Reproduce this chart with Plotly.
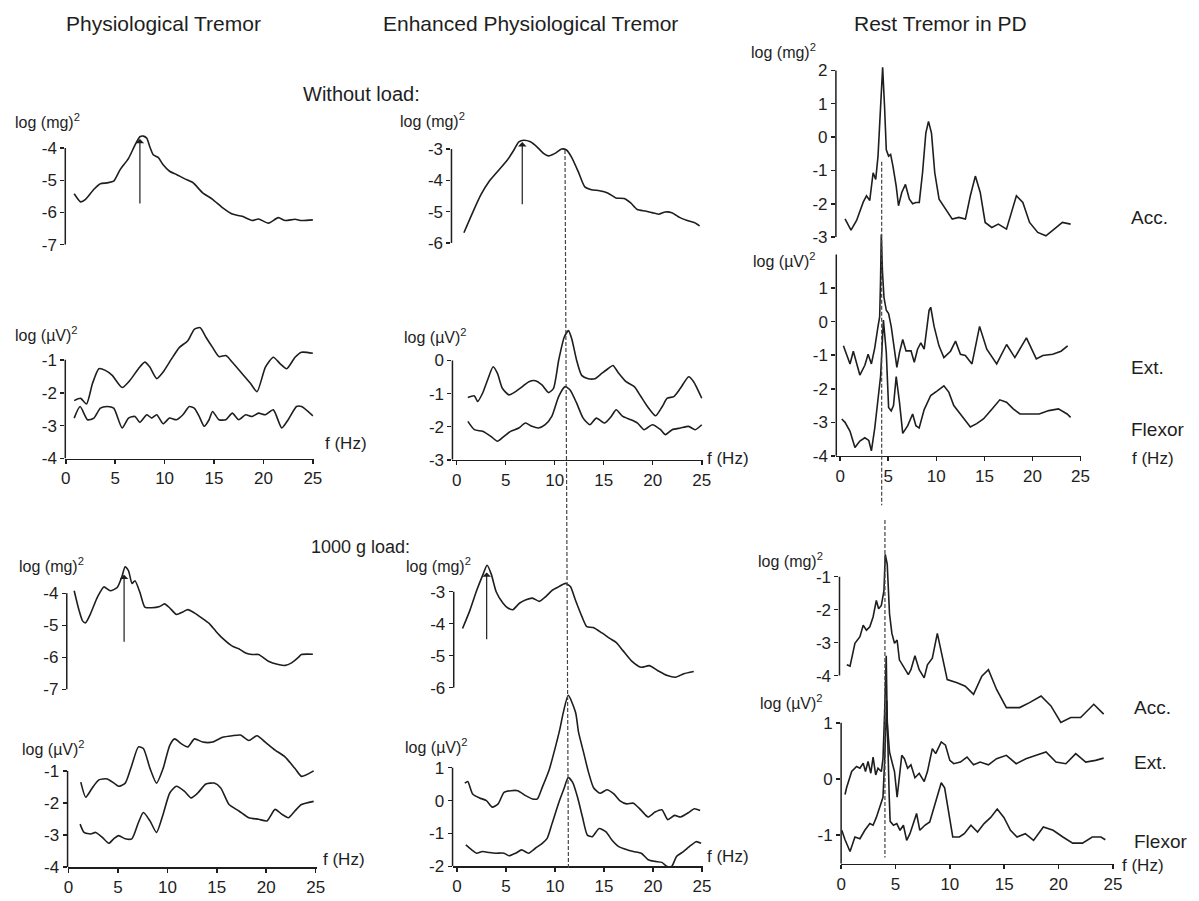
import plotly.graph_objects as go

W, H = 1199, 901
FONT = "Liberation Sans, Arial, sans-serif"
INK = "#1e1e1e"

# ---------------- data (frequency in Hz, power in log units) ----------------
# Physiological tremor, without load
PT_ACC_NL_HZ = [0.85,1.5,2.0,2.85,3.5,4.2,4.85,5.5,6.35,7.0,7.5,7.85,8.2,8.5,8.85,9.35,9.85,10.5,11.2,12.0,12.85,13.85,14.85,15.85,16.85,17.85,18.85,19.5,20.5,21.5,22.2,23.2,23.85,25.0]
PT_ACC_NL = [-5.42,-5.67,-5.59,-5.28,-5.11,-5.08,-5.03,-4.67,-4.32,-3.91,-3.65,-3.63,-3.70,-3.96,-4.21,-4.29,-4.52,-4.72,-4.82,-4.95,-5.07,-5.39,-5.59,-5.85,-6.05,-6.12,-6.25,-6.20,-6.33,-6.16,-6.25,-6.21,-6.25,-6.23]
PT_EMG1_NL_HZ = [0.85,1.5,2.1,2.7,3.35,4.0,4.7,5.7,6.5,7.35,8.0,8.5,9.2,9.85,10.7,11.5,12.35,13.0,13.6,14.2,14.85,15.5,16.2,16.85,17.85,18.7,19.35,20.2,21.0,21.7,22.35,23.2,23.85,25.0]
PT_EMG1_NL = [-2.24,-2.17,-2.34,-1.72,-1.27,-1.32,-1.47,-1.84,-1.62,-1.27,-1.07,-1.22,-1.57,-1.37,-0.97,-0.62,-0.42,-0.07,-0.02,-0.32,-0.62,-0.90,-0.87,-1.07,-1.42,-1.72,-1.97,-1.22,-0.92,-1.12,-1.27,-0.92,-0.77,-0.80]
PT_EMG2_NL_HZ = [0.85,1.45,2.2,2.85,3.5,4.2,4.85,5.7,6.35,7.0,7.5,8.2,8.7,9.2,9.85,10.5,11.2,11.85,12.5,13.0,13.5,14.0,14.5,14.85,15.5,16.2,16.85,17.5,18.2,18.85,19.5,20.2,21.0,21.85,22.5,23.35,23.85,25.0]
PT_EMG2_NL = [-2.77,-2.42,-2.82,-2.77,-2.47,-2.42,-2.47,-3.07,-2.77,-2.72,-2.90,-2.67,-2.77,-2.67,-2.94,-2.77,-2.82,-2.67,-2.42,-2.47,-2.72,-3.02,-2.82,-2.57,-2.82,-2.82,-2.62,-2.82,-2.67,-2.72,-2.62,-2.67,-2.52,-3.07,-2.82,-2.42,-2.42,-2.70]
# Physiological tremor, 1000 g load
PT_ACC_L_HZ = [0.85,1.35,1.7,2.0,2.5,3.2,3.85,4.5,5.2,5.7,6.0,6.35,6.7,7.0,7.5,8.0,8.7,9.5,10.0,10.5,11.2,11.85,12.35,13.0,13.85,14.5,15.2,15.85,16.85,17.5,18.2,18.85,19.5,20.5,21.5,22.2,22.85,23.5,23.85,25.0]
PT_ACC_L = [-3.92,-4.54,-4.86,-4.92,-4.64,-4.12,-3.80,-3.92,-3.82,-3.46,-3.17,-3.30,-3.69,-3.61,-3.97,-4.43,-4.45,-4.41,-4.33,-4.45,-4.66,-4.58,-4.51,-4.61,-4.79,-4.94,-5.19,-5.40,-5.65,-5.73,-5.86,-5.91,-5.91,-6.12,-6.22,-6.25,-6.17,-6.01,-5.91,-5.90]
PT_EMG1_L_HZ = [1.24,1.74,2.4,3.07,3.9,4.6,5.07,5.74,6.4,7.07,7.57,8.24,8.9,9.57,10.24,10.74,11.4,12.07,12.74,13.57,14.57,15.57,16.57,17.4,18.24,19.07,19.9,20.9,21.9,22.9,23.57,24.8]
PT_EMG1_L = [-1.35,-1.82,-1.53,-1.28,-1.25,-1.38,-1.48,-1.38,-0.82,-0.25,-0.30,-0.92,-1.38,-0.92,-0.20,0.00,-0.15,-0.25,0.00,-0.10,-0.10,0.05,0.10,0.12,-0.05,0.10,-0.10,-0.35,-0.56,-0.92,-1.17,-1.00]
PT_EMG2_L_HZ = [1.17,1.57,2.24,2.74,3.4,4.07,4.57,5.07,5.74,6.4,7.07,7.57,8.24,8.9,9.57,10.24,10.9,11.74,12.4,13.07,13.9,14.74,15.4,16.24,17.24,18.24,19.24,20.07,20.9,21.57,22.24,22.9,23.57,24.8]
PT_EMG2_L = [-2.66,-2.92,-2.97,-2.92,-3.07,-3.26,-3.12,-3.02,-3.12,-3.12,-2.61,-2.30,-2.56,-2.92,-2.35,-1.69,-1.48,-1.64,-1.84,-1.69,-1.41,-1.38,-1.53,-2.05,-2.25,-2.46,-2.51,-2.56,-2.20,-2.35,-2.46,-2.25,-2.05,-1.95]

# Enhanced physiological tremor, without load
EPT_ACC_NL_HZ = [0.74,1.64,2.49,3.32,4.33,5.17,5.84,6.34,6.85,7.52,8.19,8.86,9.36,10.03,10.7,11.2,11.7,12.4,13.07,13.74,14.57,15.4,16.24,17.08,17.75,18.42,19.26,19.93,20.6,21.27,21.94,22.78,23.6,24.28,24.78]
EPT_ACC_NL = [-5.67,-5.02,-4.45,-4.03,-3.66,-3.35,-3.03,-2.77,-2.72,-2.77,-2.93,-3.14,-3.22,-3.14,-3.00,-3.03,-3.25,-3.72,-4.21,-4.30,-4.33,-4.40,-4.56,-4.58,-4.72,-4.93,-4.98,-5.03,-5.08,-5.01,-5.03,-5.19,-5.29,-5.35,-5.45]
EPT_EMG1_NL_HZ = [1.14,1.81,2.14,2.64,3.15,3.72,4.16,4.66,5.33,6.0,6.7,7.37,8.04,8.7,9.38,9.88,10.4,10.97,11.4,11.74,12.24,12.75,13.42,14.09,14.76,15.43,15.94,16.44,17.28,18.12,18.79,19.46,20.3,20.97,21.48,22.15,22.82,23.66,24.17,25.0]
EPT_EMG1_NL = [-1.12,-1.07,-1.24,-0.99,-0.59,-0.19,-0.39,-0.84,-1.04,-0.94,-0.79,-0.64,-0.61,-0.74,-0.97,-0.84,0.00,0.70,0.90,0.65,0.00,-0.45,-0.55,-0.55,-0.40,-0.25,-0.15,-0.35,-0.64,-0.79,-1.09,-1.39,-1.67,-1.39,-1.14,-1.09,-0.84,-0.49,-0.64,-1.14]
EPT_EMG2_NL_HZ = [1.14,1.81,2.64,3.48,4.16,4.83,5.5,6.34,7.01,7.68,8.35,9.03,9.7,10.4,11.07,11.57,12.24,12.9,13.58,14.25,15.1,15.77,16.27,16.94,17.78,18.45,19.12,19.96,20.8,21.3,21.98,22.82,23.66,24.33,25.0]
EPT_EMG2_NL = [-1.84,-2.09,-2.14,-2.29,-2.44,-2.29,-2.14,-2.04,-1.89,-1.99,-2.04,-1.94,-1.69,-1.09,-0.79,-0.89,-1.29,-1.74,-1.94,-1.74,-1.89,-1.69,-1.49,-1.69,-1.79,-1.89,-2.09,-1.94,-2.09,-2.24,-2.09,-2.04,-1.99,-2.09,-1.94]
# Enhanced physiological tremor, 1000 g load
EPT_ACC_L_HZ = [0.57,1.31,2.0,2.67,3.07,3.5,4.0,4.7,5.2,5.7,6.37,7.04,7.7,8.4,9.06,9.73,10.4,11.07,11.57,12.07,12.74,13.24,13.9,14.75,15.59,16.26,16.93,17.77,18.78,19.62,20.46,21.47,22.3,23.14,24.15]
EPT_ACC_L = [-4.15,-3.59,-2.97,-2.45,-2.17,-2.45,-3.00,-3.36,-3.51,-3.56,-3.36,-3.25,-3.20,-3.30,-3.15,-2.95,-2.84,-2.74,-2.84,-3.25,-3.77,-4.09,-4.12,-4.28,-4.46,-4.59,-4.84,-5.15,-5.36,-5.31,-5.46,-5.62,-5.67,-5.56,-5.49]
EPT_EMG1_L_HZ = [0.8,1.1,1.6,2.3,3.0,3.6,4.2,4.8,5.5,6.2,7.0,7.7,8.2,8.7,9.4,10.0,10.5,10.85,11.35,12.1,12.4,12.9,13.4,13.95,14.6,15.3,16.0,16.6,17.3,18.0,18.8,19.5,20.2,20.9,21.5,22.2,22.8,23.7,24.2,24.8]
EPT_EMG1_L = [0.53,0.58,0.20,0.08,0.00,-0.20,-0.10,0.25,0.30,0.30,0.15,0.05,0.05,0.40,0.93,1.58,2.18,2.68,3.20,2.68,2.08,1.48,0.88,0.38,0.22,0.33,0.20,0.00,-0.10,-0.08,-0.30,-0.50,-0.35,-0.28,-0.58,-0.45,-0.50,-0.35,-0.25,-0.30]
EPT_EMG2_L_HZ = [0.9,1.5,2.0,2.6,3.3,3.95,4.8,5.3,6.0,6.6,7.3,8.0,8.7,9.2,9.7,10.4,10.9,11.35,11.8,12.3,12.8,13.3,13.8,14.5,15.2,15.8,16.5,17.4,18.0,18.8,19.5,20.2,20.9,21.4,21.9,22.4,23.1,23.7,24.4,24.9]
EPT_EMG2_L = [-1.35,-1.50,-1.60,-1.55,-1.58,-1.60,-1.60,-1.68,-1.60,-1.50,-1.60,-1.45,-1.30,-1.15,-0.70,-0.05,0.35,0.70,0.55,0.10,-0.50,-1.05,-1.10,-0.85,-0.95,-1.20,-1.40,-1.50,-1.55,-1.60,-1.80,-1.85,-1.88,-2.00,-2.00,-1.70,-1.55,-1.40,-1.25,-1.30]

# Rest tremor in PD, without load
PD_ACC_NL_HZ = [0.51,1.13,1.71,2.4,2.74,3.08,3.43,3.7,3.94,4.21,4.42,4.62,4.8,5.04,5.25,5.49,5.83,6.07,6.41,6.79,7.2,7.54,7.88,8.23,8.57,8.91,9.19,9.5,9.84,10.29,10.97,11.66,12.34,13.03,13.54,14.06,14.57,15.08,15.77,16.45,17.3,17.82,18.33,19.0,19.7,20.55,21.4,22.26,23.11,23.97]
PD_ACC_NL = [-2.45,-2.79,-2.50,-1.95,-1.76,-1.90,-1.07,-1.27,-0.57,0.91,2.09,0.91,-0.38,-0.57,-0.52,-0.87,-1.47,-2.06,-1.66,-1.42,-1.86,-2.00,-1.96,-1.96,-1.07,0.12,0.47,0.12,-1.07,-1.86,-2.16,-2.46,-2.41,-2.46,-1.76,-1.17,-1.66,-2.56,-2.71,-2.61,-2.76,-2.26,-1.76,-1.96,-2.56,-2.86,-2.96,-2.76,-2.56,-2.61]
PD_EXT_NL_HZ = [0.34,0.68,1.03,1.37,1.71,2.05,2.57,2.91,3.25,3.6,3.94,4.11,4.2,4.28,4.4,4.56,4.8,5.04,5.31,5.65,5.9,6.17,6.51,6.85,7.37,7.71,8.05,8.39,8.74,9.25,9.42,9.77,10.28,10.79,11.48,12.0,12.51,13.02,13.71,14.5,15.25,16.28,17.31,18.17,19.37,20.4,21.08,22.11,22.97,23.66]
PD_EXT_NL = [-0.72,-0.97,-1.26,-0.88,-1.21,-1.59,-1.30,-0.97,-1.26,-0.78,-0.14,0.14,1.20,2.60,1.50,0.72,0.34,0.24,-0.14,-0.92,-1.36,-0.92,-0.53,-0.87,-0.87,-1.21,-0.82,-0.63,-0.82,0.34,0.43,-0.14,-0.72,-1.07,-0.88,-0.58,-0.97,-1.01,-1.26,-0.14,-0.82,-1.26,-0.68,-1.07,-0.48,-1.11,-1.01,-0.97,-0.88,-0.72]
PD_FLX_NL_HZ = [0.17,0.51,1.03,1.54,2.05,2.57,2.98,3.25,3.6,3.94,4.21,4.5,4.8,5.04,5.31,5.55,5.83,6.17,6.51,7.03,7.54,7.88,8.22,8.74,9.42,10.1,10.79,11.3,11.82,12.5,13.54,14.2,14.9,15.8,16.6,17.3,18.0,18.7,19.7,20.7,21.7,22.7,23.6,23.97]
PD_FLX_NL = [-2.90,-3.00,-3.27,-3.75,-3.56,-3.46,-3.54,-3.85,-3.17,-2.20,-1.62,0.05,-0.92,-2.56,-2.66,-2.50,-1.64,-2.40,-3.33,-3.10,-2.75,-3.10,-3.17,-2.62,-2.20,-2.06,-1.91,-2.10,-2.50,-2.75,-3.14,-3.04,-2.90,-2.60,-2.33,-2.40,-2.60,-2.75,-2.75,-2.75,-2.65,-2.60,-2.75,-2.85]
# Rest tremor in PD, 1000 g load
PD_ACC_L_HZ = [0.52,0.82,1.27,1.73,2.03,2.33,2.64,2.94,3.24,3.45,3.7,3.94,4.06,4.24,4.45,4.67,4.91,5.15,5.36,5.82,6.18,6.42,6.79,7.18,7.64,7.94,8.39,8.85,9.3,9.76,10.67,11.42,12.18,12.94,13.55,14.3,15.2,16.42,17.33,18.39,19.3,20.21,21.12,22.03,23.24,24.15]
PD_ACC_L = [-3.67,-3.71,-3.02,-2.82,-2.47,-2.62,-2.52,-2.22,-1.72,-1.97,-1.87,-1.42,-0.32,-0.62,-2.12,-2.72,-3.02,-2.92,-3.52,-3.77,-3.97,-3.82,-3.40,-3.82,-4.07,-3.67,-3.47,-2.72,-3.42,-4.12,-4.22,-4.32,-4.57,-4.02,-3.82,-4.42,-4.97,-4.97,-4.82,-4.62,-4.92,-5.42,-5.27,-5.27,-4.87,-5.17]
PD_EXT_L_HZ = [0.36,0.5,0.97,1.42,1.73,2.03,2.24,2.48,2.73,2.94,3.18,3.39,3.7,3.85,4.0,4.15,4.24,4.45,4.67,4.91,5.15,5.36,5.58,5.82,6.12,6.42,6.79,7.18,7.64,7.94,8.39,8.7,9.21,9.6,10.0,10.36,10.97,11.58,12.18,12.79,13.55,14.3,15.2,16.1,17.0,17.94,18.85,19.76,20.67,21.58,22.5,23.4,24.15]
PD_EXT_L = [-0.28,-0.16,0.13,0.22,0.19,0.28,0.13,0.31,0.10,0.39,0.07,0.19,0.13,0.36,1.18,2.20,1.00,0.48,0.31,0.13,-0.33,0.07,0.42,0.36,0.19,0.25,0.02,0.10,-0.05,0.13,0.54,0.45,0.66,0.60,0.33,0.27,0.30,0.39,0.25,0.30,0.25,0.36,0.42,0.27,0.36,0.42,0.48,0.30,0.27,0.45,0.30,0.33,0.37]
PD_FLX_L_HZ = [0.06,0.36,0.82,1.27,1.73,2.18,2.64,2.94,3.24,3.55,3.85,4.0,4.2,4.42,4.51,4.82,5.12,5.42,5.73,6.03,6.33,6.64,6.94,7.24,7.7,8.15,8.76,9.21,9.52,9.88,10.27,10.88,11.33,11.94,12.55,13.15,13.76,14.36,14.97,15.58,16.18,16.94,17.7,18.6,19.5,20.4,21.3,22.2,23.1,23.9,24.3]
PD_FLX_L = [-0.92,-1.09,-1.30,-1.04,-1.07,-0.92,-0.80,-0.83,-0.69,-0.51,-0.33,0.31,1.40,-0.30,-0.76,-0.83,-0.80,-0.92,-0.83,-1.10,-0.98,-0.80,-0.62,-0.92,-0.83,-0.77,-0.39,-0.07,-0.16,-0.57,-1.04,-1.04,-0.98,-0.83,-0.95,-0.80,-0.69,-0.54,-0.69,-0.92,-1.04,-0.98,-1.10,-0.86,-0.92,-1.04,-1.15,-1.15,-1.04,-1.04,-1.09]

# marked peak frequencies (Hz) and arrow extents
ARROWS = {1: (7.5, -5.77, -3.72), 3: (5.9, -5.56, -3.42), 5: (6.69, -4.81, -2.78), 7: (3.03, -4.53, -2.40)}
EPT_PEAK_HZ = (11.05, 11.4)
PD_PEAK_NL_HZ = 4.32
PD_PEAK_L_HZ = 4.03

X_TICKS = [0, 5, 10, 15, 20, 25]

# ---------------- panel geometry (pixel calibration) ----------------
PANELS = [
    dict(series=[(PT_ACC_NL_HZ, PT_ACC_NL)], x0=61.5, k=10, xr=(-0.05, 25.2), cal=(-4, 148, -7, 246), yr=(-7, -3.5), yt=[-7, -6, -5, -4], yl=(-7, -4), showx=False, shape='spline'),
    dict(series=[(PT_EMG1_NL_HZ, PT_EMG1_NL), (PT_EMG2_NL_HZ, PT_EMG2_NL)], x0=61.5, k=10, xr=(-0.05, 25.1), cal=(-1, 362.7, -4, 462.7), yr=(-4, 0.1), yt=[-4, -3, -2, -1], yl=(-4, -1), showx=True, shape='spline'),
    dict(series=[(PT_ACC_L_HZ, PT_ACC_L)], x0=61.5, k=10, xr=(0.1, 25.2), cal=(-4, 599.3, -7, 696.7), yr=(-7, -3.0), yt=[-7, -6, -5, -4], yl=(-7, -4), showx=False, shape='spline'),
    dict(series=[(PT_EMG1_L_HZ, PT_EMG1_L), (PT_EMG2_L_HZ, PT_EMG2_L)], x0=64.3, k=10, xr=(-0.1, 25.1), cal=(-1, 779.3, -4, 876.7), yr=(-4, 0.25), yt=[-4, -3, -2, -1], yl=(-4, -1), showx=True, shape='spline'),
    dict(series=[(EPT_ACC_NL_HZ, EPT_ACC_NL)], x0=457, k=9.92, xr=(-0.53, 25.0), cal=(-3, 149, -6, 244.3), yr=(-6, -2.6), yt=[-6, -5, -4, -3], yl=(-6, -3), showx=False, shape='spline'),
    dict(series=[(EPT_EMG1_NL_HZ, EPT_EMG1_NL), (EPT_EMG2_NL_HZ, EPT_EMG2_NL)], x0=457, k=9.92, xr=(-0.43, 25.1), cal=(0, 363.3, -3, 464), yr=(-3, 1.0), yt=[-3, -2, -1, 0], yl=(-3, 0), showx=True, shape='spline'),
    dict(series=[(EPT_ACC_L_HZ, EPT_ACC_L)], x0=457.3, k=9.92, xr=(-0.33, 25.0), cal=(-3, 597.7, -6, 695), yr=(-6, -2.0), yt=[-6, -5, -4, -3], yl=(-6, -3), showx=False, shape='spline'),
    dict(series=[(EPT_EMG1_L_HZ, EPT_EMG1_L), (EPT_EMG2_L_HZ, EPT_EMG2_L)], x0=457.3, k=9.92, xr=(-0.45, 25.1), cal=(1, 776, -2, 876), yr=(-2, 3.3), yt=[-2, -1, 0, 1], yl=(-2, 1), showx=True, shape='spline'),
    dict(series=[(PD_ACC_NL_HZ, PD_ACC_NL)], x0=845, k=9.73, xr=(-0.44, 25.2), cal=(2, 69.3, -3, 238.3), yr=(-3, 2.2), yt=[-3, -2, -1, 0, 1, 2], yl=(-3, 2), showx=False, shape='linear'),
    dict(series=[(PD_EXT_NL_HZ, PD_EXT_NL), (PD_FLX_NL_HZ, PD_FLX_NL)], x0=845, k=9.73, xr=(-0.4, 25.0), cal=(1, 290, -4, 460), yr=(-4, 2.7), yt=[-4, -3, -2, -1, 0, 1], yl=(-4, 2), showx=True, shape='linear'),
    dict(series=[(PD_ACC_L_HZ, PD_ACC_L)], x0=846, k=11, xr=(-0.15, 25.0), cal=(-3, 649.3, -4, 682.7), yr=(-5.6, -0.2), yt=[-4, -3, -2, -1], yl=(-4, -1), showx=False, shape='linear'),
    dict(series=[(PD_EXT_L_HZ, PD_EXT_L), (PD_FLX_L_HZ, PD_FLX_L)], x0=846, k=11, xr=(0.0, 25.1), cal=(0, 787.3, -1, 844), yr=(-1.52, 2.35), yt=[-1, 0, 1], yl=(-1.52, 1), showx=True, shape='linear'),
]


def xdom(p):
    return [(p['x0'] + p['xr'][0] * p['k']) / W, (p['x0'] + p['xr'][1] * p['k']) / W]


def ydom(p):
    v1, p1, v2, p2 = p['cal']
    s = (p2 - p1) / (v2 - v1)
    f = lambda v: 1 - (p1 + (v - v1) * s) / H
    return [f(p['yr'][0]), f(p['yr'][1])]


def px(x):
    return x / W


def py(y):
    return 1 - y / H


def lab(v):
    return str(v)


fig = go.Figure()
layout = dict(width=W, height=H, margin=dict(l=0, r=0, t=0, b=0), paper_bgcolor='white',
              plot_bgcolor='rgba(0,0,0,0)', showlegend=False,
              font=dict(family=FONT, color=INK, size=17))
shapes = []
annotations = []

for i, p in enumerate(PANELS, start=1):
    sx = '' if i == 1 else str(i)
    xa, ya = 'x' + sx, 'y' + sx
    for xs, ys in p['series']:
        fig.add_trace(go.Scatter(x=xs, y=ys, xaxis=xa, yaxis=ya, mode='lines',
                                 line=dict(color=INK, width=1.6, shape=p['shape'], smoothing=0.6),
                                 hoverinfo='skip'))
    layout['xaxis' + sx] = dict(domain=xdom(p), range=list(p['xr']), anchor=ya, showgrid=False, zeroline=False,
                                showline=p['showx'], linecolor=INK, linewidth=1.5,
                                ticks='outside' if p['showx'] else '', ticklen=4, tickwidth=1.5, tickcolor=INK,
                                tickvals=X_TICKS, ticktext=[lab(t) for t in X_TICKS],
                                showticklabels=p['showx'], tickfont=dict(size=17, family=FONT, color=INK),
                                fixedrange=True)
    layout['yaxis' + sx] = dict(domain=ydom(p), range=list(p['yr']), anchor=xa, showgrid=False, zeroline=False,
                                showline=False, ticks='outside', ticklen=4, tickwidth=1.5, tickcolor=INK,
                                tickvals=p['yt'], ticktext=[lab(t) for t in p['yt']],
                                tickfont=dict(size=17, family=FONT, color=INK), fixedrange=True)
    shapes.append(dict(type='line', xref=xa + ' domain', yref=ya, x0=0, x1=0, y0=p['yl'][0], y1=p['yl'][1],
                       line=dict(color=INK, width=1.5)))
    if i in ARROWS:
        hz, lo, hi = ARROWS[i]
        annotations.append(dict(x=hz, y=hi, ax=hz, ay=lo, xref=xa, yref=ya, axref=xa, ayref=ya, text='',
                                showarrow=True, arrowhead=1, arrowsize=1.2, arrowwidth=1.2, arrowcolor=INK))

# dashed peak-frequency markers
DASH = dict(color='#444', width=1.2, dash='4px,2px')
shapes.append(dict(type='line', xref='x5', yref='paper', x0=EPT_PEAK_HZ[0], x1=EPT_PEAK_HZ[1],
                   y0=py(150), y1=py(878), line=DASH))
shapes.append(dict(type='line', xref='x9', yref='paper', x0=PD_PEAK_NL_HZ, x1=PD_PEAK_NL_HZ,
                   y0=py(162), y1=py(510), line=DASH))
shapes.append(dict(type='line', xref='x12', yref='paper', x0=PD_PEAK_L_HZ, x1=PD_PEAK_L_HZ,
                   y0=py(525), y1=py(867), line=DASH))

TEXTS = [
    ("Physiological Tremor", 160, 22, 'center', 21),
    ("Enhanced Physiological Tremor", 532, 22, 'center', 21),
    ("Rest Tremor in PD", 947, 22, 'center', 21),
    ("Without load:", 300, 93, 'left', 20),
    ("1000 g load:", 308, 552, 'left', 18),
    ("log (mg)<sup>2</sup>", 8, 121, 'left', 16),
    ("log (µV)<sup>2</sup>", 8, 336, 'left', 16),
    ("log (mg)<sup>2</sup>", 12, 571, 'left', 16),
    ("log (µV)<sup>2</sup>", 15, 756, 'left', 16),
    ("log (mg)<sup>2</sup>", 398, 120, 'left', 16),
    ("log (µV)<sup>2</sup>", 402, 339, 'left', 16),
    ("log (mg)<sup>2</sup>", 404, 571, 'left', 16),
    ("log (µV)<sup>2</sup>", 403, 754, 'left', 16),
    ("log (mg)<sup>2</sup>", 753, 50, 'left', 16),
    ("log (µV)<sup>2</sup>", 755, 261, 'left', 16),
    ("log (mg)<sup>2</sup>", 760, 566, 'left', 16),
    ("log (µV)<sup>2</sup>", 762, 709, 'left', 16),
    ("f (Hz)", 322, 447, 'left', 17),
    ("f (Hz)", 320, 869, 'left', 17),
    ("f (Hz)", 708, 463, 'left', 17),
    ("f (Hz)", 708, 866, 'left', 17),
    ("Acc.", 1137, 218, 'left', 19),
    ("Ext.", 1137, 370, 'left', 19),
    ("Flexor", 1137, 433, 'left', 19),
    ("f (Hz)", 1138, 463, 'left', 17),
    ("Acc.", 1140, 715, 'left', 19),
    ("Ext.", 1140, 771, 'left', 19),
    ("Flexor", 1140, 851, 'left', 19),
    ("f (Hz)", 1128, 875, 'left', 17),
]
for t, x, y, anc, size in TEXTS:
    annotations.append(dict(text=t, x=px(x), y=py(y), xref='paper', yref='paper', xanchor=anc, yanchor='middle',
                            showarrow=False, font=dict(family=FONT, size=size, color=INK)))

layout['shapes'] = shapes
layout['annotations'] = annotations
fig.update_layout(**layout)

fig.write_html("out.html", config={'displayModeBar': False, 'staticPlot': True},
               post_script="document.body.style.margin='0';")
